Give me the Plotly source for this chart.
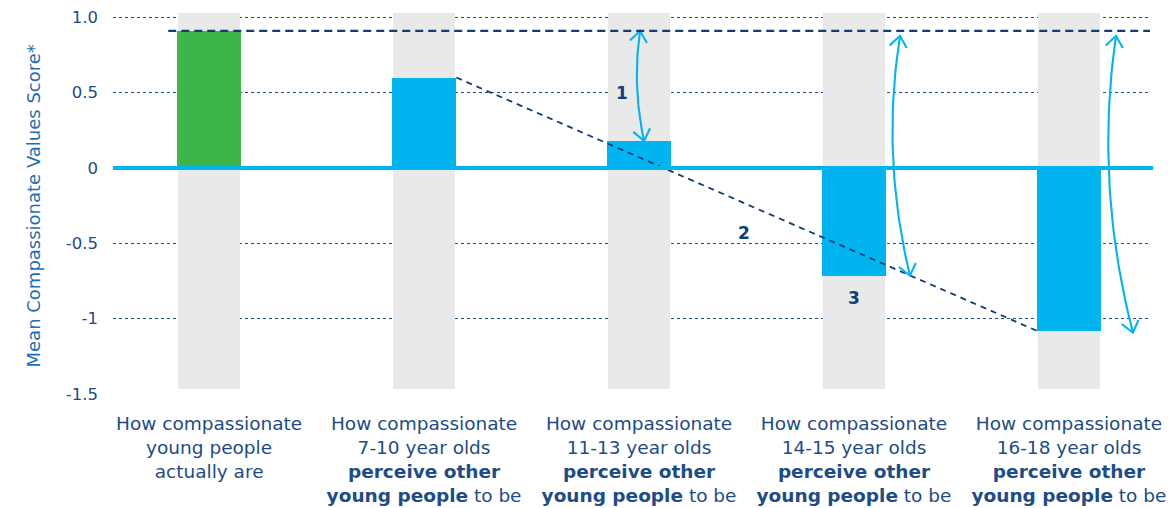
import numpy as np
import plotly.graph_objects as go

# ---------------- data ----------------
categories = [
    "How compassionate<br>young people<br>actually are",
    "How compassionate<br>7-10 year olds<br><b>perceive other</b><br><b>young people</b> to be",
    "How compassionate<br>11-13 year olds<br><b>perceive other</b><br><b>young people</b> to be",
    "How compassionate<br>14-15 year olds<br><b>perceive other</b><br><b>young people</b> to be",
    "How compassionate<br>16-18 year olds<br><b>perceive other</b><br><b>young people</b> to be",
]
values = [0.91, 0.60, 0.18, -0.715, -1.08]
bar_colors = ["#3cb54a", "#00b4ef", "#00b4ef", "#00b4ef", "#00b4ef"]
backdrop_top = [1.03, 1.03, 1.03, 1.03, 1.03]
backdrop_bottom = [-1.47, -1.47, -1.47, -1.47, -1.47]
y_tickvals = [1.0, 0.5, 0, -0.5, -1, -1.5]
y_ticktext = ["1.0", "0.5", "0", "-0.5", "-1", "-1.5"]
gap_labels = ["1", "2", "3"]

# ---------------- style / layout constants ----------------
W, H = 1171, 508
ML, MR, MT, MB = 113, 21, 12, 114
PW, PH = W - ML - MR, H - MT - MB
XR = [-0.447, 4.377]
YR = [-1.5, 1.035]
NAVY = "#1d4c86"
DNAVY = "#0f3d78"
LBLUE = "#00b4ef"
GRAY = "#e9e9e9"
FONT = "DejaVu Sans"
BW = 0.3

pos = list(range(len(values)))


def to_px(x, y):
    return (ML + (x - XR[0]) / (XR[1] - XR[0]) * PW,
            MT + (YR[1] - y) / (YR[1] - YR[0]) * PH)


def to_data(px, py):
    return (XR[0] + (px - ML) / PW * (XR[1] - XR[0]),
            YR[1] - (py - MT) / PH * (YR[1] - YR[0]))


fig = go.Figure()

# grey backdrop columns
fig.add_trace(go.Bar(
    x=pos, y=[t - b for t, b in zip(backdrop_top, backdrop_bottom)], base=backdrop_bottom,
    width=BW * 0.97, marker=dict(color=GRAY, line=dict(width=0)), hoverinfo="skip",
    showlegend=False))

# value bars
fig.add_trace(go.Bar(
    x=pos, y=values, width=BW, marker=dict(color=bar_colors, line=dict(width=0)),
    showlegend=False))

# diagonal dashed trend line between bar 2 top-right and bar 5 top-left
fig.add_trace(go.Scatter(
    x=[pos[1] + BW / 2, pos[4] - BW / 2], y=[values[1], values[4]], mode="lines",
    line=dict(color=DNAVY, width=1.8, dash="6px,5px"), hoverinfo="skip", showlegend=False))


# curved double-headed arrows (from the "actual" level to each perceived value)
def curved_arrow(i, top_dx, bot_dx, bulge, top_gap, bot_gap):
    cx, _ = to_px(pos[i], 0)
    _, ytop = to_px(0, values[0])
    _, ybot = to_px(0, values[i])
    P0 = np.array([cx + top_dx, ytop + top_gap])
    P2 = np.array([cx + bot_dx, ybot + bot_gap])
    M = (P0 + P2) / 2 + np.array([bulge, 0])
    C = 2 * M - 0.5 * (P0 + P2)
    t = np.linspace(0, 1, 40)[:, None]
    pts = (1 - t) ** 2 * P0 + 2 * (1 - t) * t * C + t ** 2 * P2
    xs, ys = zip(*[to_data(px, py) for px, py in pts])
    fig.add_trace(go.Scatter(x=xs, y=ys, mode="lines", line=dict(color=LBLUE, width=2.1),
                             hoverinfo="skip", showlegend=False))
    for tip, ctrl in ((P0, C), (P2, C)):
        d = tip - ctrl
        d = d / np.linalg.norm(d)
        arms = []
        for ang in (np.radians(38), -np.radians(38)):
            rot = np.array([[np.cos(ang), -np.sin(ang)], [np.sin(ang), np.cos(ang)]])
            arms.append(tip - 14 * rot @ d)
        hp = [arms[0], tip, arms[1]]
        hx, hy = zip(*[to_data(px, py) for px, py in hp])
        fig.add_trace(go.Scatter(x=hx, y=hy, mode="lines",
                                 line=dict(color=LBLUE, width=2.1),
                                 hoverinfo="skip", showlegend=False))


curved_arrow(2, 1, 5, -5, 0, 0)
curved_arrow(3, 46, 56, -12, 5, 0)
curved_arrow(4, 47, 64, -15, 5, 2)

# horizontal dashed "actual" reference line
fig.add_shape(type="line", xref="x", yref="y", x0=pos[0] - 0.19, x1=XR[1] + 0.02,
              y0=values[0], y1=values[0], line=dict(color=DNAVY, width=2.4, dash="8px,5px"),
              layer="above")
# zero line
fig.add_shape(type="line", xref="paper", yref="y", x0=0, x1=1.003, y0=0, y1=0,
              line=dict(color=LBLUE, width=4), layer="above")

# gap number labels
fig.add_annotation(x=pos[2] - 0.08, y=0.5, text="<b>%s</b>" % gap_labels[0], showarrow=False,
                   font=dict(family=FONT, size=17, color=DNAVY))
fig.add_annotation(x=2.49, y=-0.43, text="<b>%s</b>" % gap_labels[1], showarrow=False,
                   font=dict(family=FONT, size=17, color=DNAVY))
fig.add_annotation(x=pos[3], y=values[3] - 0.145, text="<b>%s</b>" % gap_labels[2],
                   showarrow=False, font=dict(family=FONT, size=17, color=DNAVY))

# y-axis title
fig.add_annotation(xref="paper", yref="paper", x=(20 - ML) / PW, y=1 - (206 - MT) / PH,
                   text="Mean Compassionate Values Score*", textangle=-90, showarrow=False,
                   font=dict(family=FONT, size=18, color="#1f6fb2"))

fig.update_layout(
    width=W, height=H, margin=dict(l=ML, r=MR, t=MT, b=MB, autoexpand=False),
    paper_bgcolor="white", plot_bgcolor="white", barmode="overlay", bargap=0,
    font=dict(family=FONT, color=NAVY),
    xaxis=dict(range=XR, tickvals=pos, ticktext=categories, showgrid=False, zeroline=False,
               showline=False, ticks="", tickfont=dict(family=FONT, size=18.5, color=NAVY),
               ticklabelstandoff=16, fixedrange=True),
    yaxis=dict(range=YR, tickvals=y_tickvals, ticktext=y_ticktext, showgrid=True,
               gridcolor=NAVY, gridwidth=1, griddash="dot", zeroline=False, showline=False,
               ticks="", tickfont=dict(family=FONT, size=16.5, color=NAVY),
               ticklabelstandoff=14, fixedrange=True),
)

fig.write_html("out.html", config={"displayModeBar": False},
               post_script="document.body.style.margin='0';document.body.style.overflow='hidden';")
